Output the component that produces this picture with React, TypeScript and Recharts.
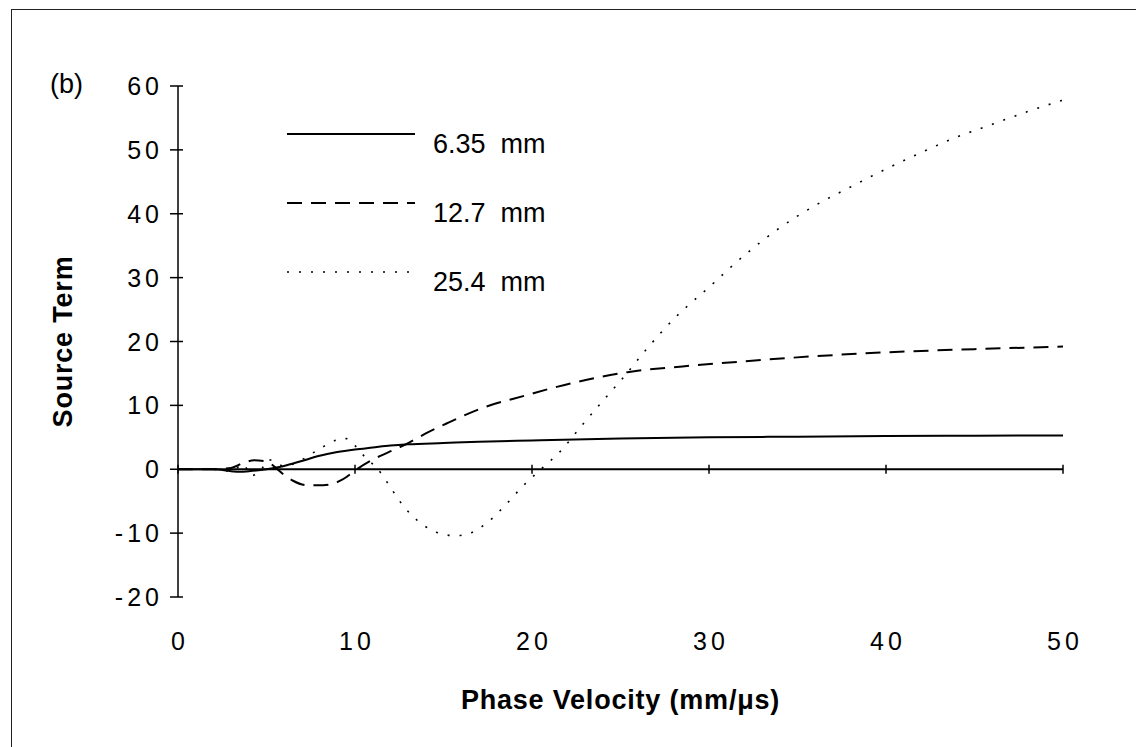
import React from "react";
import {
  LineChart, Line, XAxis, YAxis, ReferenceLine, Label,
} from "recharts";

// Phase velocity (mm/us) → source term, one pair of arrays per plate thickness
const v635 = [0, 1, 2, 3, 3.5, 4, 5, 5.8, 6.5, 7, 8, 9, 10, 11, 12, 13, 15, 17, 20, 25, 30, 35, 40, 45, 50];
const s635 = [0, 0, 0, -0.3, -0.4, -0.3, 0, 0.4, 0.9, 1.3, 2.1, 2.7, 3.1, 3.4, 3.7, 3.9, 4.1, 4.3, 4.5, 4.8, 5.0, 5.1, 5.2, 5.25, 5.3];

const v127 = [0, 2, 3, 3.7, 4.3, 5, 5.5, 6, 6.5, 7.3, 8.2, 9.3, 10.1, 11, 12.4, 13, 14, 15.2, 17.2, 19.7, 21.4, 23.1, 25.4, 28.5, 32, 36, 40, 45, 50];
const s127 = [0, 0, 0.2, 1.0, 1.4, 1.2, 0.3, -0.9, -1.8, -2.5, -2.5, -1.6, 0, 1.5, 3.3, 4.1, 5.6, 7.2, 9.6, 11.6, 12.9, 14.0, 15.2, 16.1, 16.9, 17.7, 18.3, 18.8, 19.2];

const v254 = [0, 2, 3, 3.7, 4.1, 4.6, 5.1, 6, 7, 8, 9, 9.5, 10, 10.6, 11.2, 12, 12.4, 13, 14, 15, 15.7, 16.5, 17.5, 18.5, 19.5, 20.5, 21.6, 22.8, 24, 25.2, 26.5, 28, 30, 32, 34, 36, 38, 40, 42, 44, 46, 48, 50];
const s254 = [0, 0, -0.3, 0.8, -1.0, -0.5, 1.5, 0.5, 1.5, 3.2, 4.6, 4.8, 3.7, 1.8, 0.3, -2.8, -4.5, -6.6, -9.0, -10.2, -10.4, -10.0, -8.3, -5.6, -2.6, 0, 2.8, 6.8, 10.7, 14.5, 18.9, 23.5, 28.5, 33.5, 37.8, 41.3, 44.2, 47, 49.6, 52, 54, 56, 57.8];

const xTicks = [0, 10, 20, 30, 40, 50];
const yTicks = [-20, -10, 0, 10, 20, 30, 40, 50, 60];

const series = [
  { name: "6.35  mm", v: v635, s: s635, dash: undefined, width: 2 },
  { name: "12.7  mm", v: v127, s: s127, dash: "15 9", width: 2 },
  { name: "25.4  mm", v: v254, s: s254, dash: "2 10", width: 1.6 },
];

const FONT = "'Liberation Sans', Arial, Helvetica, sans-serif";

const zip = (v: number[], s: number[]) => v.map((x, i) => ({ x, y: s[i] }));

function YTick({ x, y, payload }: any) {
  return (
    <g>
      <line x1={x + 11} x2={x + 24} y1={y} y2={y} stroke="#000" strokeWidth={1.5} />
      <text x={x + 4} y={y} dy="0.36em" textAnchor="end" fontSize={25} fontFamily={FONT}
            letterSpacing={4} fill="#000">{payload.value}</text>
    </g>
  );
}

function XTick({ x, y, payload }: any) {
  return (
    <text x={x + 2} y={y} dy="0.71em" textAnchor="middle" fontSize={25} fontFamily={FONT}
          letterSpacing={4} fill="#000">{payload.value}</text>
  );
}

function LegendRow({ name, dash, width }: { name: string; dash?: string; width: number }) {
  return (
    <div style={{ display: "flex", alignItems: "center", height: 69 }}>
      <svg width={130} height={20} style={{ marginTop: -10 }}>
        <line x1={0} y1={4} x2={128} y2={4} stroke="#000" strokeWidth={width} strokeDasharray={dash} />
      </svg>
      <span style={{ marginLeft: 16, fontSize: 27, whiteSpace: "pre" }}>{name}</span>
    </div>
  );
}

export default function App() {
  return (
    <div style={{ position: "absolute", left: 0, top: 0, width: 1136, height: 747, background: "#fff", overflow: "hidden", fontFamily: FONT }}>
      {/* scanned frame, only top and left edges are in view */}
      <div style={{ position: "absolute", left: 11, top: 9, width: 1200, height: 900, border: "1.5px solid #222" }} />

      <LineChart width={1136} height={747} data={[]}
                 margin={{ top: 86, right: 73, bottom: 0, left: 0 }}>
        <XAxis type="number" dataKey="x" domain={[0, 50]} ticks={xTicks} allowDataOverflow
               axisLine={false} tickLine={false} tickSize={0} tickMargin={35} height={150} tick={<XTick />}>
          <Label value="Phase Velocity (mm/μs)" position="insideBottom" offset={38}
                 style={{ fontSize: 27, fontWeight: 700, fontFamily: FONT, fill: "#000", letterSpacing: 0.8 }} />
        </XAxis>
        <YAxis type="number" domain={[-20, 60]} ticks={yTicks} width={178} allowDataOverflow
               axisLine={{ stroke: "#000", strokeWidth: 1.5 }} tickLine={false} tickSize={8} tickMargin={11}
               tick={<YTick />}>
          <Label value="Source Term" angle={-90} position="insideLeft" offset={62}
                 style={{ fontSize: 27, fontWeight: 700, fontFamily: FONT, fill: "#000", textAnchor: "middle", letterSpacing: 0.8 }} />
        </YAxis>

        {/* x axis drawn along y = 0 */}
        <ReferenceLine segment={[{ x: 0, y: 0 }, { x: 50, y: 0 }]} stroke="#000" strokeWidth={2} />
        {xTicks.map((t) => (
          <ReferenceLine key={t} segment={[{ x: t, y: -0.7 }, { x: t, y: 0.7 }]} stroke="#000" strokeWidth={1.5} />
        ))}

        {series.map((d) => (
          <Line key={d.name} data={zip(d.v, d.s)} dataKey="y" type="monotone" stroke="#000"
                strokeWidth={d.width} strokeDasharray={d.dash} dot={false} isAnimationActive={false} />
        ))}
      </LineChart>

      <div style={{ position: "absolute", left: 50, top: 69, fontSize: 27 }}>(b)</div>

      <div style={{ position: "absolute", left: 287, top: 110, color: "#000" }}>
        {series.map((d) => <LegendRow key={d.name} name={d.name} dash={d.dash} width={d.width} />)}
      </div>
    </div>
  );
}
